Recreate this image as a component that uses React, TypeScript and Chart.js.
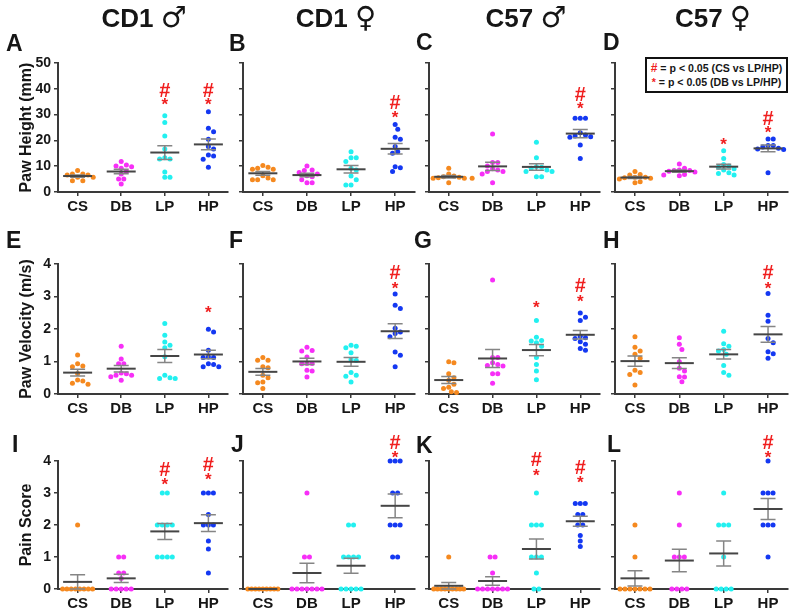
import React, { useEffect, useRef } from 'react';
import { Chart, registerables } from 'chart.js';

Chart.register(...registerables);

// ---------- DATA ----------
const groups = ['CS', 'DB', 'LP', 'HP'];
const groupColors = ['#f5891f', '#f72ff7', '#22f0f0', '#1438f2'];
const strainNames = ['CD1', 'CD1', 'C57', 'C57'];
const sexSymbols = ['♂', '♀', '♂', '♀'];
const panelLetters = [
  ['A', 'B', 'C', 'D'],
  ['E', 'F', 'G', 'H'],
  ['I', 'J', 'K', 'L'],
];
const rowTitles = ['Paw Height (mm)', 'Paw Velocity (m/s)', 'Pain Score'];
const rowMax = [50, 4, 4];
const rowStep = [10, 1, 1];

// Paw height (mm): [CS, DB, LP, HP]
const pawHeightCD1Male = [
  [8.3, 7.0, 7.0, 6.6, 6.6, 5.7, 5.7, 4.4, 4.4],
  [11.8, 10.5, 10.1, 9.8, 9.2, 7.9, 7.0, 5.0, 5.0, 3.1],
  [29.6, 26.9, 21.7, 16.7, 13.3, 12.8, 12.8, 7.8, 5.7, 5.7],
  [31.1, 24.7, 23.4, 20.4, 17.6, 16.7, 14.3, 14.0, 12.7, 9.6],
];
const pawHeightCD1Female = [
  [10.3, 9.6, 9.2, 8.8, 8.8, 6.3, 5.4, 4.7, 4.7, 4.7],
  [10.1, 8.5, 8.3, 7.6, 7.0, 6.3, 5.9, 4.7, 3.6, 3.6],
  [15.6, 13.3, 13.3, 11.8, 9.2, 8.5, 6.2, 4.7, 2.7, 2.7],
  [26.2, 24.3, 21.2, 20.4, 17.6, 15.6, 15.0, 9.8, 9.4, 7.9],
];
const pawHeightC57Male = [
  [9.2, 7.0, 6.2, 5.9, 5.7, 5.5, 5.3, 5.3, 5.3, 3.6],
  [22.5, 11.4, 11.4, 10.1, 9.0, 8.5, 7.9, 7.9, 7.0, 3.6],
  [19.3, 13.3, 9.8, 9.6, 9.2, 8.5, 7.9, 7.9, 5.9, 5.9],
  [28.6, 28.6, 28.6, 23.0, 22.1, 21.7, 21.4, 21.2, 18.2, 13.0],
];
const pawHeightC57Female = [
  [7.9, 6.8, 6.6, 5.7, 5.7, 5.5, 5.3, 5.0, 4.0, 3.6],
  [10.9, 9.2, 8.5, 8.3, 8.3, 8.0, 7.8, 6.8, 6.6, 6.3],
  [16.0, 13.0, 10.7, 10.1, 9.6, 9.0, 8.5, 7.5, 7.2, 6.6],
  [20.5, 20.5, 18.0, 18.0, 17.4, 17.0, 16.7, 16.5, 7.5],
];

// Paw velocity (m/s)
const pawVelocityCD1Male = [
  [1.2, 0.93, 0.86, 0.84, 0.63, 0.43, 0.4, 0.33, 0.3],
  [1.47, 1.08, 0.93, 0.93, 0.65, 0.62, 0.58, 0.58, 0.53, 0.42],
  [2.17, 1.81, 1.6, 1.5, 1.42, 1.15, 0.58, 0.5, 0.48, 0.48],
  [1.99, 1.91, 1.35, 1.14, 1.12, 1.12, 0.93, 0.91, 0.84, 0.84],
];
const pawVelocityCD1Female = [
  [1.12, 1.04, 1.04, 0.84, 0.81, 0.58, 0.5, 0.37, 0.35, 0.17],
  [1.44, 1.34, 1.32, 1.14, 0.94, 0.94, 0.93, 0.73, 0.71, 0.52],
  [1.5, 1.47, 1.42, 1.27, 1.06, 1.03, 0.66, 0.58, 0.55, 0.37],
  [3.08, 2.73, 2.63, 2.02, 1.91, 1.86, 1.76, 1.29, 1.19, 0.84],
];
const pawVelocityC57Male = [
  [0.99, 0.96, 0.62, 0.5, 0.42, 0.3, 0.21, 0.17, 0.07, 0.05],
  [3.51, 1.12, 1.12, 0.96, 0.91, 0.88, 0.86, 0.62, 0.62, 0.33],
  [2.26, 1.75, 1.65, 1.63, 1.58, 1.47, 1.12, 0.91, 0.71, 0.44],
  [2.49, 2.36, 2.26, 1.78, 1.73, 1.71, 1.61, 1.53, 1.4, 1.35],
];
const pawVelocityC57Female = [
  [1.76, 1.44, 1.32, 1.22, 1.1, 0.73, 0.66, 0.6, 0.28],
  [1.73, 1.53, 1.37, 0.99, 0.79, 0.71, 0.53, 0.52, 0.38],
  [1.93, 1.55, 1.47, 1.37, 1.32, 1.22, 0.88, 0.66, 0.58],
  [3.09, 2.42, 2.24, 1.71, 1.58, 1.3, 1.24, 1.1],
];

// Pain score
const painCD1Male = [
  [2, 0, 0, 0, 0, 0, 0, 0, 0],
  [1, 1, 0.5, 0.5, 0.33, 0, 0, 0, 0, 0],
  [3, 3, 2, 2, 2, 2, 1, 1, 1, 1],
  [3, 3, 3, 2.33, 2, 2, 2, 1.5, 1.25, 0.5],
];
const painCD1Female = [
  [0, 0, 0, 0, 0, 0, 0, 0, 0],
  [3, 1, 1, 0, 0, 0, 0, 0, 0, 0],
  [2, 2, 1, 1, 1, 1, 0, 0, 0, 0, 0],
  [4, 4, 4, 3, 3, 2, 2, 2, 1, 1],
];
const painC57Male = [
  [1, 0, 0, 0, 0, 0, 0, 0, 0, 0],
  [1, 1, 0.5, 0, 0, 0, 0, 0, 0, 0],
  [3, 2, 2, 2, 1, 1, 1, 0.5, 0, 0],
  [2.67, 2.67, 2.67, 2.33, 2.33, 2, 2, 1.67, 1.5, 1.33],
];
const painC57Female = [
  [2, 1, 0, 0, 0, 0, 0, 0, 0],
  [3, 2, 1, 1, 1, 0, 0, 0, 0],
  [3, 2, 2, 2, 1, 0, 0, 0, 0],
  [4, 3, 3, 3, 2, 2, 2, 1],
];

// significance marks: level (in axis units) where the mark sits, null = none
const pawHeightHash = [[null, null, 39.8, 39.8], [null, null, null, 35.0], [null, null, null, 38.2], [null, null, null, 28.9]];
const pawHeightStar = [[null, null, 35.4, 35.4], [null, null, null, 30.5], [null, null, null, 33.7], [null, null, 19.9, 24.4]];
const pawVelocityHash = [[null, null, null, null], [null, null, null, 3.76], [null, null, null, 3.35], [null, null, null, 3.76]];
const pawVelocityStar = [[null, null, null, 2.63], [null, null, null, 3.37], [null, null, 2.77, 2.98], [null, null, null, 3.37]];
const painHash = [[null, null, 3.76, 3.92], [null, null, null, 4.6], [null, null, 4.07, 3.83], [null, null, null, 4.6]];
const painStar = [[null, null, 3.4, 3.55], [null, null, null, 4.23], [null, null, 3.68, 3.45], [null, null, null, 4.23]];

const rowData = [
  [pawHeightCD1Male, pawHeightCD1Female, pawHeightC57Male, pawHeightC57Female],
  [pawVelocityCD1Male, pawVelocityCD1Female, pawVelocityC57Male, pawVelocityC57Female],
  [painCD1Male, painCD1Female, painC57Male, painC57Female],
];
const rowHash = [pawHeightHash, pawVelocityHash, painHash];
const rowStar = [pawHeightStar, pawVelocityStar, painStar];

// ---------- LAYOUT ----------
const FONT = '"Liberation Sans", Arial, Helvetica, sans-serif';
const RED = '#f01e1e';
const TEXT = '#161616';
const AXIS = '#3a3a3a';
const X_MIN = -0.45;
const X_MAX = 3.45;
const X_AXIS_H = 22;

const COLS = [
  { left: 58, right: 228, cLeft: 0, cRight: 232 },
  { left: 243, right: 415, cLeft: 230, cRight: 420 },
  { left: 429, right: 600, cLeft: 420, cRight: 605 },
  { left: 615, right: 788, cLeft: 605, cRight: 797 },
];
const ROWS = [
  { top: 63, bottom: 192, cTop: 28 },
  { top: 264, bottom: 394, cTop: 228 },
  { top: 461, bottom: 589, cTop: 425 },
];

// horizontal spread of dots (pixel offsets) so points do not overlap
function spread(values: number[], pxPerY: number, discrete: boolean): number[] {
  const off = new Array(values.length).fill(0);
  if (discrete) {
    const byVal = new Map<number, number[]>();
    values.forEach((v, i) => {
      const arr = byVal.get(v) || [];
      arr.push(i);
      byVal.set(v, arr);
    });
    byVal.forEach((idx) => {
      const m = idx.length;
      const s = m > 1 ? Math.min(5, 30 / (m - 1)) : 0;
      idx.forEach((i, k) => {
        off[i] = (k - (m - 1) / 2) * s;
      });
    });
    return off;
  }
  const d = 5.2;
  const step = 2.6;
  const order = values.map((_, i) => i).sort((a, b) => values[b] - values[a]);
  const placed: { x: number; y: number }[] = [];
  for (const i of order) {
    const y = values[i] * pxPerY;
    for (let k = 0; k < 60; k++) {
      const c = k === 0 ? 0 : (k % 2 === 1 ? 1 : -1) * Math.ceil(k / 2) * step;
      if (placed.every((p) => Math.hypot(p.x - c, p.y - y) >= d)) {
        off[i] = c;
        placed.push({ x: c, y });
        break;
      }
    }
  }
  return off;
}

function makeStatsPlugin(values: number[][], hash: (number | null)[], star: (number | null)[]) {
  return {
    id: 'meanSem',
    afterDatasetsDraw(chart: any) {
      const { ctx } = chart;
      const xs = chart.scales.x;
      const ys = chart.scales.y;
      values.forEach((vals, g) => {
        const n = vals.length;
        const mean = vals.reduce((a, b) => a + b, 0) / n;
        const sd = Math.sqrt(vals.reduce((a, b) => a + (b - mean) * (b - mean), 0) / (n - 1));
        const sem = sd / Math.sqrt(n);
        const cx = xs.getPixelForValue(g);
        const yM = ys.getPixelForValue(mean);
        const yT = ys.getPixelForValue(mean + sem);
        const yB = ys.getPixelForValue(Math.max(0, mean - sem));
        ctx.save();
        ctx.lineCap = 'butt';
        ctx.strokeStyle = '#858585';
        ctx.lineWidth = 1.5;
        ctx.beginPath();
        ctx.moveTo(cx, yT);
        ctx.lineTo(cx, yB);
        ctx.moveTo(cx - 7.5, yT);
        ctx.lineTo(cx + 7.5, yT);
        ctx.moveTo(cx - 7.5, yB);
        ctx.lineTo(cx + 7.5, yB);
        ctx.stroke();
        ctx.strokeStyle = '#454545';
        ctx.lineWidth = 2;
        ctx.beginPath();
        ctx.moveTo(cx - 14.5, yM);
        ctx.lineTo(cx + 14.5, yM);
        ctx.stroke();
        ctx.fillStyle = RED;
        ctx.textAlign = 'center';
        ctx.textBaseline = 'alphabetic';
        const h = hash[g];
        if (h !== null && h !== undefined) {
          const y = ys.getPixelForValue(h);
          ctx.font = `bold 20px ${FONT}`;
          ctx.fillText('#', cx, y + 0.36 * 20);
        }
        const s = star[g];
        if (s !== null && s !== undefined) {
          const y = ys.getPixelForValue(s);
          ctx.font = `bold 17px ${FONT}`;
          ctx.fillText('*', cx, y + 0.55 * 17);
        }
        ctx.restore();
      });
    },
  };
}

function Panel({ row, col }: { row: number; col: number }) {
  const ref = useRef<HTMLCanvasElement>(null);
  const C = COLS[col];
  const R = ROWS[row];
  const width = C.cRight - C.cLeft;
  const height = R.top - R.cTop + (R.bottom - R.top) + X_AXIS_H;

  useEffect(() => {
    const values = rowData[row][col];
    const plotW = C.right - C.left;
    const plotH = R.bottom - R.top;
    const pxPerX = plotW / (X_MAX - X_MIN);
    const pxPerY = plotH / rowMax[row];
    const discrete = row === 2;
    const datasets = values.map((vals, g) => {
      const off = spread(vals, pxPerY, discrete);
      return {
        label: groups[g],
        data: vals.map((v, i) => ({ x: g + off[i] / pxPerX, y: v })),
        pointRadius: 2.5,
        pointBackgroundColor: groupColors[g],
        pointBorderWidth: 0,
        pointBorderColor: groupColors[g],
        showLine: false,
        clip: false as any,
      };
    });
    const first = col === 0;
    const padLeft = first ? 13 : 0;
    const yWidth = C.left - C.cLeft - padLeft;
    const chart = new Chart(ref.current as HTMLCanvasElement, {
      type: 'scatter',
      data: { datasets },
      options: {
        responsive: false,
        animation: false,
        events: [],
        layout: {
          padding: { left: padLeft, right: C.cRight - C.right, top: R.top - R.cTop, bottom: 0 },
        },
        plugins: {
          legend: { display: false },
          tooltip: { enabled: false },
          title: { display: false },
        },
        scales: {
          x: {
            type: 'linear',
            min: X_MIN,
            max: X_MAX,
            afterBuildTicks: (s: any) => {
              s.ticks = [0, 1, 2, 3].map((v) => ({ value: v }));
            },
            afterFit: (s: any) => {
              s.height = X_AXIS_H;
            },
            ticks: {
              autoSkip: false,
              maxRotation: 0,
              padding: 2,
              color: TEXT,
              font: { family: FONT, size: 15, weight: 'bold' },
              callback: (v: any) => groups[Math.round(Number(v))] ?? '',
            },
            grid: { drawOnChartArea: false, drawTicks: true, tickLength: 4, color: AXIS, lineWidth: 1.5 },
            border: { display: true, color: AXIS, width: 2 },
          },
          y: {
            type: 'linear',
            min: 0,
            max: rowMax[row],
            afterFit: (s: any) => {
              s.width = yWidth;
            },
            ticks: {
              stepSize: rowStep[row],
              padding: 3,
              color: TEXT,
              font: { family: FONT, size: 14, weight: 'bold' },
              callback: (v: any) => (first ? String(v) : ''),
            },
            title: {
              display: first,
              text: rowTitles[row],
              color: TEXT,
              font: { family: FONT, size: 16, weight: 'bold' },
              padding: { top: 4, bottom: 0 },
            },
            grid: { drawOnChartArea: false, drawTicks: true, tickLength: 4, color: AXIS, lineWidth: 1.5 },
            border: { display: true, color: AXIS, width: 2 },
          },
        },
      } as any,
      plugins: [makeStatsPlugin(values, rowHash[row][col], rowStar[row][col])],
    });
    return () => chart.destroy();
  }, [row, col]);

  return (
    <canvas
      ref={ref}
      width={width}
      height={height}
      style={{ position: 'absolute', left: C.cLeft, top: R.cTop, width, height }}
    />
  );
}

const letterPos = [
  [[6, 43], [229, 43], [416, 42], [603, 42]],
  [[6, 240], [229, 240], [414, 240], [603, 240]],
  [[12, 444], [231, 444], [416, 445], [607, 444]],
];
const titleCenters = [144, 336, 526, 713];

export default function App() {
  const cells: React.ReactNode[] = [];
  for (let r = 0; r < 3; r++) {
    for (let c = 0; c < 4; c++) {
      cells.push(<Panel key={`p${r}${c}`} row={r} col={c} />);
    }
  }
  return (
    <div
      style={{
        position: 'fixed',
        left: 0,
        top: 0,
        width: 800,
        height: 611,
        background: '#ffffff',
        overflow: 'hidden',
        fontFamily: FONT,
        color: TEXT,
      }}
    >
      {cells}
      {strainNames.map((t, i) => (
        <div
          key={`t${i}`}
          style={{
            position: 'absolute',
            left: titleCenters[i] - 80,
            width: 160,
            top: 0,
            height: 34,
            lineHeight: '34px',
            textAlign: 'center',
            fontSize: 26,
            fontWeight: 'bold',
            whiteSpace: 'nowrap',
          }}
        >
          {t}{' '}
          <span style={{ fontSize: 29, fontWeight: 'normal', fontFamily: '"DejaVu Sans", sans-serif' }}>
            {sexSymbols[i]}
          </span>
        </div>
      ))}
      {panelLetters.map((rowL, r) =>
        rowL.map((L, c) => (
          <div
            key={L}
            style={{
              position: 'absolute',
              left: letterPos[r][c][0],
              top: letterPos[r][c][1] - 14,
              height: 28,
              lineHeight: '28px',
              fontSize: 23,
              fontWeight: 'bold',
            }}
          >
            {L}
          </div>
        ))
      )}
      <div
        style={{
          position: 'absolute',
          left: 645,
          top: 57,
          width: 143,
          height: 36,
          boxSizing: 'border-box',
          border: '2px solid #111',
          background: '#fff',
          fontSize: 10.6,
          fontWeight: 'bold',
          lineHeight: '14px',
          padding: '2px 0 0 0',
          textAlign: 'center',
          whiteSpace: 'nowrap',
        }}
      >
        <div>
          <span style={{ color: RED, fontSize: 12 }}>#</span> = p &lt; 0.05 (CS vs LP/HP)
        </div>
        <div>
          <span style={{ color: RED }}>*</span> = p &lt; 0.05 (DB vs LP/HP)
        </div>
      </div>
    </div>
  );
}
